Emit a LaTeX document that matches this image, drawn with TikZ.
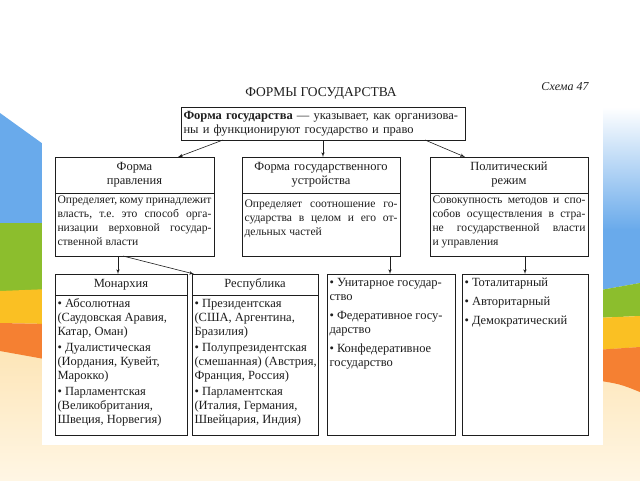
\documentclass[tikz,border=0pt]{standalone}
\usepackage{fontspec}
\setmainfont{Liberation Serif}
\usepackage{xcolor}
\usepackage{tikz}
\usetikzlibrary{arrows,positioning}

\definecolor{slideblue}{RGB}{105,170,235}
\definecolor{slidegreen}{RGB}{140,190,45}
\definecolor{slideyellow}{RGB}{250,192,35}
\definecolor{slideorange}{RGB}{245,128,50}
\definecolor{slidepeach}{RGB}{253,228,180}
\definecolor{slidecream}{RGB}{255,246,228}
\definecolor{ink}{RGB}{30,30,30}

\frenchspacing
\newcommand{\justline}[1]{\makebox[\linewidth][s]{#1}}

\begin{document}
\begin{tikzpicture}[x=1pt, y=-1pt,
      box/.style={draw=ink, line width=0.7pt, inner xsep=2.5pt, inner ysep=0pt, outer sep=0pt, text=ink, font=\fontsize{12.5}{14}\selectfont},
      body/.style={box, font=\fontsize{11.6}{13.8}\selectfont},
      head/.style={box, align=center, minimum height=36pt},
      smallhead/.style={box, align=center, minimum height=21pt},
      line/.style={draw=ink, -latex', line width=0.6pt}]

      \useasboundingbox (0,0) rectangle (640,480);

      % Slide background
      \fill [white] (0,0) rectangle (640,480);
      \shade [top color=slidepeach, bottom color=slidecream] (0,340) rectangle (640,480);
      \fill [slideblue] (0,113) -- (50,149) -- (50,223) -- (0,223) -- cycle;
      \fill [slidegreen] (0,223) rectangle (50,291);
      \fill [slideyellow] (0,291) -- (50,289) -- (50,324) -- (0,323) -- cycle;
      \fill [slideorange] (0,323) -- (50,324) -- (50,360) .. controls (25,355) .. (0,351) -- cycle;
      \shade [top color=white, bottom color=slideblue] (595,107) rectangle (640,230);
      \fill [slideblue] (595,229) -- (640,229) -- (640,283) -- (595,291) -- cycle;
      \fill [slidegreen] (595,291) -- (640,283) -- (640,316) -- (595,318) -- cycle;
      \fill [slideyellow] (595,318) -- (640,316) -- (640,347) -- (595,350) -- cycle;
      \fill [slideorange] (595,350) -- (640,347) -- (640,392) .. controls (620,384) .. (595,380) -- cycle;
      \fill [white] (42,75) rectangle (603,445);

      % Nodes
      \node [text=ink, font=\fontsize{13.5}{15}\selectfont] (title) at (321,93) {ФОРМЫ ГОСУДАРСТВА};
      \node [text=ink, font=\itshape\fontsize{12}{14}\selectfont] (scheme) at (565,87) {Схема 47};
      \node [box, anchor=north west, text width=279pt, align=left, minimum height=33pt] (state) at (181,107)
            {\textbf{Форма государства} — указывает, как организова-\\ны и функционируют государство и право};

      \node [head, anchor=north west, text width=154pt] (rule) at (55,157) {Форма\\правления};
      \node [head, right=28pt of rule, text width=153pt] (device) {Форма государственного\\устройства};
      \node [head, right=30pt of device, text width=153pt] (regime) {Политический\\режим};

      \node [body, below=0pt of rule] (rulebody) {\parbox[c][63pt][t]{154pt}{\vspace*{3pt}%
            \justline{Определяет, кому принадлежит}\\ \justline{власть, т.е. это способ орга-}\\
            \justline{низации верховной государ-}\\ ственной власти}};
      \node [body, below=0pt of device] (devicebody) {\parbox[c][63pt][t]{153pt}{\vspace*{7pt}%
            \justline{Определяет соотношение го-}\\ \justline{сударства в целом и его от-}\\ дельных частей}};
      \node [body, below=0pt of regime] (regimebody) {\parbox[c][63pt][t]{153pt}{\vspace*{3pt}%
            \justline{Совокупность методов и спо-}\\ \justline{собов осуществления в стра-}\\
            \justline{не государственной власти}\\ и управления}};

      \node [smallhead, anchor=north west, text width=127pt] (monarchy) at (55,274) {Монархия};
      \node [smallhead, right=5pt of monarchy, text width=121pt] (republic) {Республика};
      \node [box, below=0pt of monarchy] (monarchybody) {\parbox[c][140pt][t]{127pt}{\vspace*{4pt}%
            • Абсолютная\\ (Саудовская Аравия,\\ Катар, Оман)\\[2pt]
            • Дуалистическая\\ (Иордания, Кувейт,\\ Марокко)\\[2pt]
            • Парламентская\\ (Великобритания,\\ Швеция, Норвегия)}};
      \node [box, below=0pt of republic] (republicbody) {\parbox[c][140pt][t]{121pt}{\vspace*{4pt}%
            • Президентская\\ (США, Аргентина,\\ Бразилия)\\[2pt]
            • Полупрезидентская\\ \mbox{(смешанная) (Австрия,}\\ Франция, Россия)\\[2pt]
            • Парламентская\\ (Италия, Германия,\\ Швейцария, Индия)}};
      \node [box, anchor=north west] (unitary) at (327,274) {\parbox[c][161pt][t]{123pt}{\vspace*{4pt}%
            • Унитарное государ-\\ ство\\[5pt] • Федеративное госу-\\ дарство\\[5pt]
            • Конфедеративное\\ государство}};
      \node [box, right=7pt of unitary] (regimes) {\parbox[c][161pt][t]{121pt}{\vspace*{4pt}%
            • Тоталитарный\\[5pt] • Авторитарный\\[5pt] • Демократический}};

      % Edges
      \path [line] ([xshift=42pt]state.south west) -- ([xshift=123pt]rule.north west);
      \path [line] (state.south) -- (state.south |- device.north);
      \path [line] ([xshift=-40pt]state.south east) -- ([xshift=35pt]regime.north west);
      \path [line] ([xshift=63pt]rulebody.south west) -- ([xshift=63pt]monarchy.north west);
      \path [line] ([xshift=68pt]rulebody.south west) -- ([xshift=2pt]republic.north west);
      \path [line] ([xshift=148pt]devicebody.south west) -- ([xshift=63pt]unitary.north west);
      \path [line] ([xshift=95pt]regimebody.south west) -- ([xshift=63pt]regimes.north west);

    \end{tikzpicture}
\end{document}
